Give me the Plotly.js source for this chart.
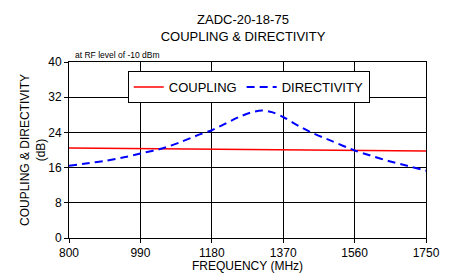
<!DOCTYPE html>
<html>
<head>
<meta charset="utf-8">
<script src="https://cdn.plot.ly/plotly-3.0.1.min.js"></script>
<style>html,body{margin:0;padding:0;background:#fff;}#chart{width:453px;height:273px;}</style>
</head>
<body>
<div id="chart"></div>
<script>
// Frequency (MHz)
const freqDir = [800, 850, 900, 950, 990, 1050, 1100, 1150, 1180, 1200, 1250, 1280, 1313, 1340, 1370, 1400, 1442, 1500, 1560, 1600, 1650, 1700, 1750];
const directivity = [16.4, 17.0, 17.6, 18.4, 19.2, 20.4, 21.9, 23.6, 24.5, 25.3, 27.4, 28.4, 29.0, 28.6, 27.5, 26.0, 24.1, 22.0, 19.9, 18.8, 17.5, 16.4, 15.3];
const freqCoup = [800, 990, 1180, 1370, 1560, 1750];
const coupling = [20.45, 20.3, 20.2, 20.05, 19.9, 19.8];
const xTicks = [800, 990, 1180, 1370, 1560, 1750];
const yTicks = [0, 8, 16, 24, 32, 40];

const font = 'Arial, "Liberation Sans", sans-serif';

const traces = [
  {x: freqCoup, y: coupling, name: 'COUPLING', mode: 'lines', line: {color: '#ff0000', width: 1.5}},
  {x: freqDir, y: directivity, name: 'DIRECTIVITY', mode: 'lines', line: {color: '#0000ff', width: 2, dash: '8px,5px', shape: 'spline', smoothing: 0.8}}
];

const layout = {
  width: 453, height: 273,
  margin: {l: 69, r: 27, t: 62, b: 35},
  paper_bgcolor: '#fff', plot_bgcolor: '#fff',
  font: {family: font, color: '#000', size: 12},
  title: {text: 'ZADC-20-18-75<br>COUPLING & DIRECTIVITY', font: {size: 13, family: font, color: '#000'},
          xref: 'container', x: 243/453, xanchor: 'center', yref: 'container', y: 1 - 24/273, yanchor: 'top'},
  xaxis: {range: [800, 1750], tickvals: xTicks, ticktext: xTicks.map(String), showgrid: true, gridcolor: '#000', gridwidth: 1,
          showline: true, linecolor: '#000', linewidth: 1, mirror: true, ticks: 'outside', ticklen: 4, tickcolor: '#000',
          tickfont: {size: 12}, zeroline: false,
          title: {text: 'FREQUENCY (MHz)', font: {size: 12}, standoff: 2}},
  yaxis: {range: [0, 40], tickvals: yTicks, showgrid: true, gridcolor: '#000', gridwidth: 1,
          showline: true, linecolor: '#000', linewidth: 1, mirror: true, ticks: 'outside', ticklen: 4, tickcolor: '#000',
          tickfont: {size: 12}, zeroline: false,
          title: {text: 'COUPLING & DIRECTIVITY<br>(dB)', font: {size: 12}, standoff: 0}},
  showlegend: true,
  legend: {orientation: 'h', x: (127.7-69)/356.7, y: (237.7-71)/175.7, xanchor: 'left', yanchor: 'top',
           bgcolor: '#fff', bordercolor: '#000', borderwidth: 1, font: {size: 13}, itemwidth: 30, tracegroupgap: 0},
  annotations: [
    {text: 'at RF level of -10 dBm', xref: 'paper', yref: 'paper', x: (73-69)/356.7, y: (237.7-55)/175.7,
     xanchor: 'left', yanchor: 'middle', showarrow: false, font: {size: 8.5}}
  ]
};

Plotly.newPlot('chart', traces, layout, {staticPlot: true, displayModeBar: false});
</script>
</body>
</html>
